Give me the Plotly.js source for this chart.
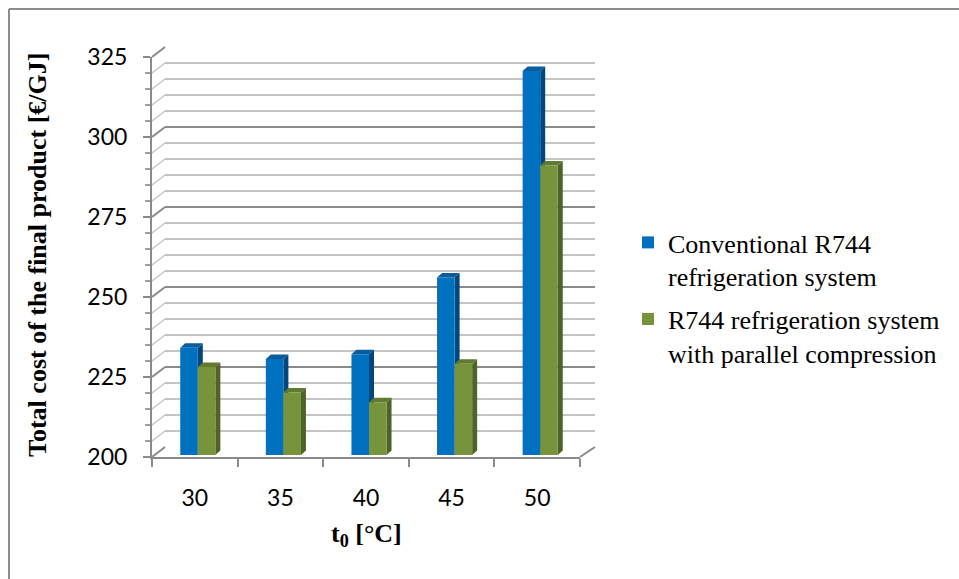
<!DOCTYPE html>
<html>
<head>
<meta charset="utf-8">
<script src="https://cdn.plot.ly/plotly-3.0.1.min.js"></script>
<style>html,body{margin:0;padding:0;background:#fff;}#chart{width:959px;height:579px;}</style>
</head>
<body>
<div id="chart"></div>
<script>
// ---- data ----
const categories = ['30', '35', '40', '45', '50'];
const seriesNames = ['Conventional R744<br>refrigeration system', 'R744 refrigeration system<br>with parallel compression'];
const conventional = [233.5, 230, 231.5, 255.5, 320];
const parallel = [227.5, 219.5, 216.5, 228.5, 290.5];
const yTickVals = [200, 225, 250, 275, 300, 325];
const yRange = [200, 325];

// ---- layout geometry (pixels) ----
const W = 959, H = 579;
const front = {x0: 152, x1: 580, yTop: 57, yBot: 457};
const back = {x0: 165, x1: 595, yTop: 47, yBot: 447};
const barBox = {x0: 155, x1: 583, yTop: 55, yBot: 455};
const px = v => v / W, py = v => (H - v) / H;

const idx = categories.map((c, i) => i);
const barW = 0.205;
const colors = {
  blue: {front: '#0070C0', side: '#00477D', top: '#0A5C9C'},
  green: {front: '#77933C', side: '#4F6228', top: '#607A30'}
};

const traces = [
  // empty traces so the front frame (x/y) and back wall (x2/y2) subplots are created
  {type: 'scatter', x: [], y: [], xaxis: 'x', yaxis: 'y', showlegend: false, hoverinfo: 'skip'},
  {type: 'scatter', x: [], y: [], xaxis: 'x2', yaxis: 'y2', showlegend: false, hoverinfo: 'skip'},
  {type: 'bar', name: seriesNames[0], x: idx, y: conventional, width: barW, offset: -barW,
   xaxis: 'x3', yaxis: 'y3', marker: {color: colors.blue.front, line: {width: 0}}, legendgroup: 'a', hoverinfo: 'y'},
  {type: 'bar', name: seriesNames[1], x: idx, y: parallel, width: barW, offset: 0,
   xaxis: 'x3', yaxis: 'y3', marker: {color: colors.green.front, line: {width: 0}}, legendgroup: 'b', hoverinfo: 'y'}
];

// 3D side/top faces derived from data through the bar axis scale
const unitPx = (barBox.x1 - barBox.x0) / (categories.length);
const valPx = (barBox.yBot - barBox.yTop) / (yRange[1] - yRange[0]);
const dX = 5 / unitPx, dY = 4.5 / valPx;
const shapes = [];
function faces(vals, off, col) {
  vals.forEach((v, i) => {
    const xl = i + off, xr = xl + barW, b = yRange[0];
    shapes.push({type: 'path', xref: 'x3', yref: 'y3', layer: 'between',
      path: `M${xr},${b} L${xr + dX},${b + dY} L${xr + dX},${v + dY} L${xr},${v} Z`,
      fillcolor: col.side, line: {width: 0}});
    shapes.push({type: 'path', xref: 'x3', yref: 'y3', layer: 'between',
      path: `M${xl},${v} L${xl + dX},${v + dY} L${xr + dX},${v + dY} L${xr},${v} Z`,
      fillcolor: col.top, line: {width: 0}});
  });
}
faces(conventional, -barW, colors.blue);
faces(parallel, 0, colors.green);

// left wall diagonals and floor edges
for (let v = yRange[0]; v <= yRange[1]; v += 5) {
  const f = (v - yRange[0]) / (yRange[1] - yRange[0]);
  const yf = front.yBot - f * (front.yBot - front.yTop);
  const yb = back.yBot - f * (back.yBot - back.yTop);
  const major = (v % 25 === 0);
  shapes.push({type: 'line', xref: 'paper', yref: 'paper', layer: 'below',
    x0: px(front.x0), y0: py(yf), x1: px(back.x0), y1: py(yb),
    line: {color: major ? '#8a8a8a' : '#c4c4c4', width: major ? 2 : 1.5}});
}
shapes.push({type: 'line', xref: 'paper', yref: 'paper', layer: 'below',
  x0: px(front.x1), y0: py(front.yBot), x1: px(back.x1), y1: py(back.yBot),
  line: {color: '#8a8a8a', width: 2}});
// outer chart border
shapes.push({type: 'line', xref: 'paper', yref: 'paper', x0: px(9), y0: py(9), x1: 1, y1: py(9), line: {color: '#8c8c8c', width: 2}});
shapes.push({type: 'line', xref: 'paper', yref: 'paper', x0: px(9), y0: py(9), x1: px(9), y1: 0, line: {color: '#8c8c8c', width: 2}});

const tickFont = {family: 'Lato, "Open Sans", sans-serif', size: 23, color: '#000'};
const serif = 'Liberation Serif, "Times New Roman", serif';

const layout = {
  width: W, height: H,
  margin: {l: 0, r: 0, t: 0, b: 0},
  paper_bgcolor: '#ffffff', plot_bgcolor: 'rgba(0,0,0,0)',
  showlegend: true,
  barmode: 'overlay',
  xaxis: {domain: [px(front.x0), px(front.x1)], anchor: 'y', range: [-0.5, categories.length - 0.5],
    tickmode: 'array', tickvals: idx, ticktext: categories, ticks: '', tickfont: tickFont, ticklabelstandoff: 19,
    showline: true, linecolor: '#8a8a8a', linewidth: 2, showgrid: false, zeroline: false, fixedrange: true,
    minor: {tickmode: 'array', tickvals: idx.concat([categories.length]).map(i => i - 0.5), ticks: 'outside', ticklen: 8,
      tickwidth: 2, tickcolor: '#8a8a8a', showgrid: false}},
  yaxis: {domain: [py(front.yBot), py(front.yTop)], anchor: 'x', range: yRange,
    tickmode: 'array', tickvals: yTickVals, ticks: 'outside', ticklen: 7, tickwidth: 2, tickcolor: '#8a8a8a',
    tickfont: tickFont, ticklabelstandoff: 11,
    showline: true, linecolor: '#8a8a8a', linewidth: 2, showgrid: false, zeroline: false, fixedrange: true,
    minor: {dtick: 5, ticks: 'outside', ticklen: 5, tickwidth: 1.5, tickcolor: '#a0a0a0', showgrid: false}},
  xaxis2: {domain: [px(back.x0), px(back.x1)], anchor: 'y2', range: [-0.5, categories.length - 0.5],
    showticklabels: false, ticks: '', showgrid: false, zeroline: false, showline: false, fixedrange: true},
  yaxis2: {domain: [py(back.yBot), py(back.yTop)], anchor: 'x2', range: yRange, dtick: 25,
    showticklabels: false, ticks: '', showgrid: true, gridcolor: '#8a8a8a', gridwidth: 2,
    zeroline: false, showline: false, fixedrange: true,
    minor: {dtick: 5, showgrid: true, gridcolor: '#c4c4c4', gridwidth: 1.5}},
  xaxis3: {domain: [px(barBox.x0), px(barBox.x1)], anchor: 'y3', range: [-0.5, categories.length - 0.5], visible: false, fixedrange: true},
  yaxis3: {domain: [py(barBox.yBot), py(barBox.yTop)], anchor: 'x3', range: yRange, visible: false, fixedrange: true},
  legend: {x: px(628), xanchor: 'left', y: py(219), yanchor: 'top', valign: 'top',
    traceorder: 'grouped', tracegroupgap: 6, bgcolor: 'rgba(0,0,0,0)',
    font: {family: serif, size: 26, color: '#000'}},
  shapes: shapes,
  annotations: [
    {text: '<b>Total cost of the final product [€/GJ]</b>', xref: 'paper', yref: 'paper',
     x: px(37), y: py(255), textangle: -90, showarrow: false, xanchor: 'center', yanchor: 'middle',
     font: {family: serif, size: 26, color: '#000'}},
    {text: '<b>t<sub>0</sub> [°C]</b>', xref: 'paper', yref: 'paper',
     x: px(366), y: py(535), showarrow: false, xanchor: 'center', yanchor: 'middle',
     font: {family: serif, size: 26, color: '#000'}}
  ]
};

Plotly.newPlot('chart', traces, layout, {displayModeBar: false, staticPlot: true});
</script>
</body>
</html>
